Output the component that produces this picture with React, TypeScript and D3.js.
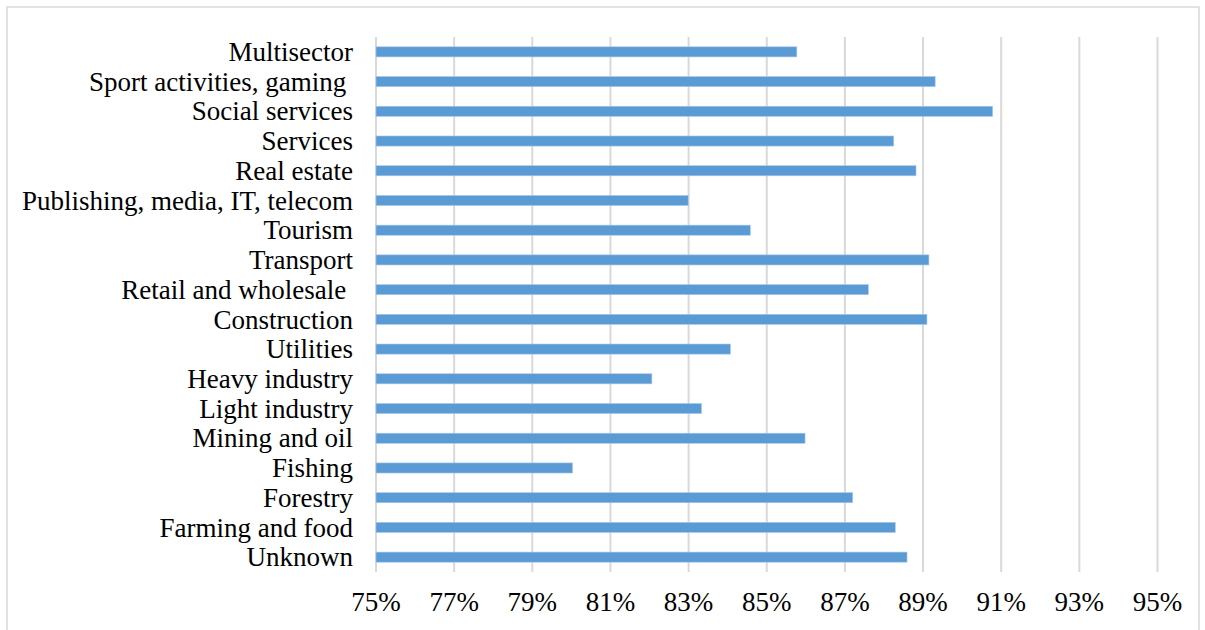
import React from "react";
import * as d3 from "d3";

const categories = [
  "Multisector",
  "Sport activities, gaming ",
  "Social services",
  "Services",
  "Real estate",
  "Publishing, media, IT, telecom",
  "Tourism",
  "Transport",
  "Retail and wholesale ",
  "Construction",
  "Utilities",
  "Heavy industry",
  "Light industry",
  "Mining and oil",
  "Fishing",
  "Forestry",
  "Farming and food",
  "Unknown",
];

const values = [
  85.77, 89.31, 90.78, 88.25, 88.82, 82.99, 84.58, 89.15, 87.6, 89.1, 84.07,
  82.06, 83.33, 85.98, 80.03, 87.2, 88.29, 88.59,
];

const ticks = [75, 77, 79, 81, 83, 85, 87, 89, 91, 93, 95];

const W = 1205;
const H = 630;
const left = 376;
const right = 1157.5;
const top = 37;
const bottom = 572;

export default function App() {
  const x = d3.scaleLinear().domain([75, 95]).range([left, right]);
  const y = d3
    .scaleBand<string>()
    .domain(categories)
    .range([top, bottom])
    .paddingInner(0.66)
    .paddingOuter(0.33);
  const font = "'Liberation Serif', 'Times New Roman', serif";
  return (
    <div style={{ position: "absolute", left: 0, top: 0 }}>
      <svg width={W} height={H} style={{ display: "block" }}>
        <rect x={0} y={0} width={W} height={H} fill="#ffffff" />
        <rect
          x={7}
          y={7}
          width={1192}
          height={640}
          fill="none"
          stroke="#d9d9d9"
          strokeWidth={1.5}
        />
        {ticks.map((t) => (
          <line
            key={"g" + t}
            x1={x(t)}
            x2={x(t)}
            y1={top}
            y2={bottom}
            stroke="#d9d9d9"
            strokeWidth={2}
          />
        ))}
        {categories.map((c, i) => (
          <rect
            key={"b" + i}
            x={x(75)}
            y={y(c)!}
            width={x(values[i]) - x(75)}
            height={y.bandwidth()}
            fill="#5b9bd5"
            stroke="#a9c8e8"
            strokeWidth={0.6}
          />
        ))}
        {categories.map((c, i) => (
          <text
            key={"l" + i}
            x={353}
            y={y(c)! + y.bandwidth() / 2}
            dy="0.34em"
            textAnchor="end"
            fontFamily={font}
            fontSize={27}
            fill="#000"
            style={{ whiteSpace: "pre" }}
          >
            {c}
          </text>
        ))}
        {ticks.map((t) => (
          <text
            key={"t" + t}
            x={x(t)}
            y={611}
            textAnchor="middle"
            fontFamily={font}
            fontSize={27}
            fill="#000"
          >
            {t + "%"}
          </text>
        ))}
      </svg>
    </div>
  );
}
